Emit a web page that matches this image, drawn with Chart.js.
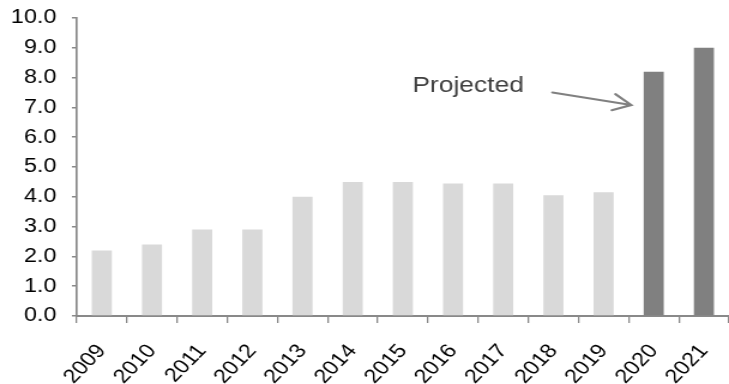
<!DOCTYPE html>
<html>
<head>
<meta charset="utf-8">
<script src="https://cdn.jsdelivr.net/npm/chart.js@4"></script>
<style>
  html, body { margin: 0; padding: 0; background: #fff; overflow: hidden; }
  /* the source picture is horizontally stretched, so draw narrow and widen */
  #wrap { width: 608px; height: 384px; transform: scaleX(1.199); transform-origin: 0 0; }
</style>
</head>
<body>
<div id="wrap"><canvas id="projChart"></canvas></div>
<script>
  // data
  const years = ['2009', '2010', '2011', '2012', '2013', '2014', '2015', '2016', '2017', '2018', '2019', '2020', '2021'];
  const values = [2.2, 2.4, 2.9, 2.9, 4.0, 4.5, 4.5, 4.45, 4.45, 4.05, 4.15, 8.2, 9.0];
  const projected = [false, false, false, false, false, false, false, false, false, false, false, true, true];

  const actualColor = '#d9d9d9';
  const projColor = '#808080';
  const axisColor = '#898989';
  const fontFamily = '"Liberation Sans", Arial, sans-serif';

  // label + arrow, placed in data coordinates (category index, value)
  const note = { text: 'Projected', x: 6.19, y: 7.52 };
  const arrow = { fromX: 8.98, fromY: 7.5, toX: 10.55, toY: 7.08 };

  const annotate = {
    id: 'annotate',
    afterDraw(chart) {
      const c = chart.ctx;
      const xs = chart.scales.x, ys = chart.scales.y;
      c.save();
      c.font = '22px ' + fontFamily;
      c.fillStyle = '#404040';
      c.textAlign = 'left';
      c.textBaseline = 'alphabetic';
      c.fillText(note.text, xs.getPixelForValue(note.x), ys.getPixelForValue(note.y));

      const x1 = xs.getPixelForValue(arrow.fromX), y1 = ys.getPixelForValue(arrow.fromY);
      const x2 = xs.getPixelForValue(arrow.toX), y2 = ys.getPixelForValue(arrow.toY);
      const ang = Math.atan2(y2 - y1, x2 - x1);
      const head = 17, spread = 0.5;
      c.strokeStyle = '#808080';
      c.lineWidth = 2.2;
      c.lineCap = 'round';
      c.beginPath();
      c.moveTo(x1, y1);
      c.lineTo(x2, y2);
      c.moveTo(x2 - head * Math.cos(ang - spread), y2 - head * Math.sin(ang - spread));
      c.lineTo(x2, y2);
      c.lineTo(x2 - head * Math.cos(ang + spread), y2 - head * Math.sin(ang + spread));
      c.stroke();
      c.restore();
    }
  };

  const ctx = document.getElementById('projChart').getContext('2d');
  new Chart(ctx, {
    type: 'bar',
    data: {
      labels: years,
      datasets: [{
        data: values,
        backgroundColor: projected.map(p => p ? projColor : actualColor),
        borderWidth: 0,
        categoryPercentage: 1.0,
        barPercentage: 0.4
      }]
    },
    options: {
      responsive: true,
      maintainAspectRatio: false,
      animation: false,
      layout: { padding: { top: 18, right: 0, left: 0, bottom: 0 } },
      plugins: {
        legend: { display: false },
        tooltip: { enabled: false }
      },
      scales: {
        x: {
          offset: true,
          grid: { offset: true, drawOnChartArea: false, drawTicks: true, tickLength: 7, color: axisColor, lineWidth: 1.3 },
          border: { color: axisColor, width: 2 },
          ticks: {
            color: '#000',
            font: { family: fontFamily, size: 19.5 },
            minRotation: 50,
            maxRotation: 50,
            autoSkip: false,
            padding: 17,
            labelOffset: 0
          },
          afterFit(scale) { scale.height = 68; scale.paddingLeft = 0; scale.paddingRight = 0; }
        },
        y: {
          min: 0,
          max: 10,
          grid: { drawOnChartArea: false, drawTicks: true, tickLength: 4, color: axisColor, lineWidth: 1.5 },
          border: { color: axisColor, width: 1.7 },
          ticks: {
            stepSize: 1,
            color: '#000',
            font: { family: fontFamily, size: 19.5 },
            padding: 13,
            callback: v => v.toFixed(1)
          },
          afterFit(scale) { scale.width = 64; scale.paddingTop = 0; scale.paddingBottom = 0; }
        }
      }
    },
    plugins: [annotate]
  });
</script>
</body>
</html>
